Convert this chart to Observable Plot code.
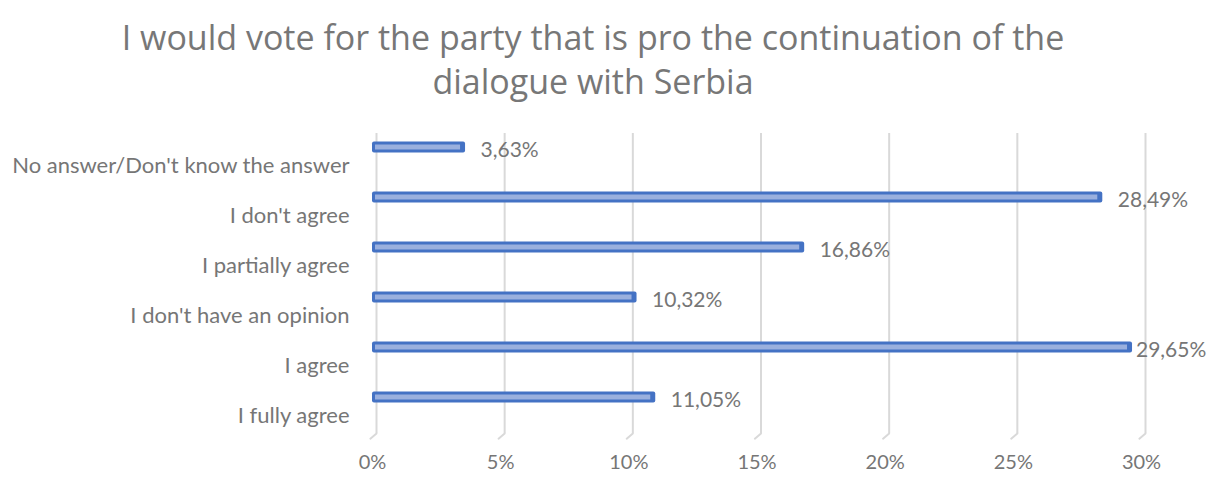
<!DOCTYPE html>
<html><head><meta charset="utf-8">
<script src="https://cdn.jsdelivr.net/npm/d3@7"></script>
<script src="https://cdn.jsdelivr.net/npm/@observablehq/plot@0.6"></script>
<style>
body{margin:0;background:#fff;}
#title{height:115px;width:1186px;text-align:center;font-family:"Open Sans";font-size:34px;color:#777777;line-height:44px;padding-top:15px;box-sizing:border-box;}
</style></head><body>
<div id="title">I would vote for the party that is pro the continuation of the<br>dialogue with Serbia</div>
<div id="chart"></div>
<script>
const categories = ["No answer/Don't know the answer","I don't agree","I partially agree","I don't have an opinion","I agree","I fully agree"];
const values = [3.63, 28.49, 16.86, 10.32, 29.65, 11.05];
const valueLabels = ["3,63%","28,49%","16,86%","10,32%","29,65%","11,05%"];
const xTicks = [0,5,10,15,20,25,30];
const tickLabels = ["0%","5%","10%","15%","20%","25%","30%"];

const data = categories.map((c,i)=>({category:c, value:values[i], label:valueLabels[i]}));
const ticks = xTicks.map((t,i)=>({t, label:tickLabels[i]}));
const labelMaxX = 29.2;
const gray = "#767676";
const gridColor = "#d9d9d9";

const chart = Plot.plot({
  width: 1217,
  height: 364,
  marginLeft: 372,
  marginRight: 76,
  marginTop: 18,
  marginBottom: 46,
  style: {fontFamily: "Lato", background: "#fff"},
  x: {domain: [0, 30], axis: null},
  y: {type: "band", domain: categories, range: [6.5, 306.5], padding: 0, axis: null},
  marks: [
    Plot.ruleX(ticks, {x: "t", dx: 4, stroke: gridColor, strokeWidth: 2}),
    Plot.vector(ticks, {x: "t", frameAnchor: "bottom", dx: 4, length: 8, rotate: 230, anchor: "start",
      stroke: gridColor, strokeWidth: 2,
      shape: {draw(ctx, l) { ctx.moveTo(0, 0); ctx.lineTo(0, -l); }}}),
    Plot.barX(data, {x: "value", y: "category", fill: "#4472C4", insetTop: 19.5, insetBottom: 19.5, rx: 2}),
    Plot.barX(data, {x: "value", y: "category", fill: "#9AB0DE", insetTop: 22.5, insetBottom: 22.5, insetLeft: 3, insetRight: 5}),
    Plot.text(data, {x: 0, y: "category", text: "category", textAnchor: "end", dx: -23, dy: 18, fontSize: 22, fill: gray}),
    Plot.text(data, {x: d => Math.min(d.value, labelMaxX), y: "category", text: "label", textAnchor: "start", dx: 15, dy: 3, fontSize: 21, fill: gray}),
    Plot.text(ticks, {x: "t", text: "label", frameAnchor: "bottom", dy: 35, fontSize: 20, fill: gray})
  ]
});
document.getElementById("chart").appendChild(chart);
</script>
</body></html>
